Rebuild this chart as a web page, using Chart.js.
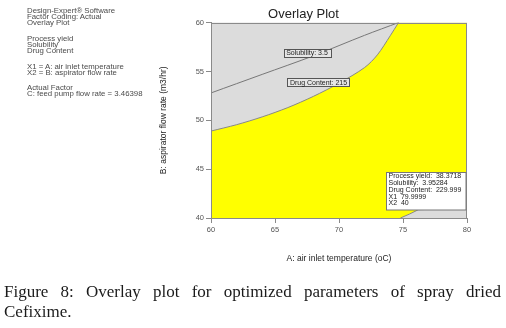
<!DOCTYPE html>
<html>
<head>
<meta charset="utf-8">
<script src="https://cdn.jsdelivr.net/npm/chart.js@4.4.1/dist/chart.umd.min.js"></script>
<style>
html, body { margin: 0; padding: 0; width: 506px; height: 328px; overflow: hidden; background: #fff; }
#page { position: absolute; left: 0; top: 0; width: 506px; height: 328px; overflow: hidden; background: #fff; will-change: transform; }
#wrap { position: absolute; left: 140px; top: 0; width: 398px; height: 272px; }
.info { position: absolute; left: 27px; font: 7.8px "Liberation Sans", Arial, sans-serif; color: #4a4a4a; white-space: nowrap; line-height: 8px; }
#caption { position: absolute; left: 4px; top: 282px; width: 497px; font: 17px "Liberation Serif", "Times New Roman", serif; line-height: 19.7px; text-align: justify; color: #1b1b1b; }
</style>
</head>
<body>
<div id="page">
<div class="info" style="top:7px">Design-Expert® Software</div>
<div class="info" style="top:13px">Factor Coding: Actual</div>
<div class="info" style="top:19px">Overlay Plot</div>
<div class="info" style="top:35px">Process yield</div>
<div class="info" style="top:41px">Solubility</div>
<div class="info" style="top:47px">Drug Content</div>
<div class="info" style="top:63px">X1 = A: air inlet temperature</div>
<div class="info" style="top:69px">X2 = B: aspirator flow rate</div>
<div class="info" style="top:84px">Actual Factor</div>
<div class="info" style="top:90px">C: feed pump flow rate = 3.46398</div>

<div id="wrap"><canvas id="overlayChart"></canvas></div>

<div id="caption">Figure 8: Overlay plot for optimized parameters of spray dried Cefixime.</div>
</div>

<script>
// contour: Solubility = 3.5
const solX = [60, 64, 68, 72, 74.65];
const solY = [52.8, 54.7, 56.6, 58.7, 60];

// contour: Drug Content = 215 (upper edge of the yellow window)
const drugX = [60, 62, 64, 66, 68, 70, 72, 73, 74, 74.65];
const drugY = [48.9, 49.55, 50.35, 51.3, 52.45, 53.8, 55.4, 56.7, 58.65, 60];

// top edge of the window, from the end of the contour to the right border
const topX = [74.5, 80];
const topY = [60, 60];

// small grey corner at the bottom right
const cornerX = [74.8, 75.5, 76.2, 80];
const cornerY = [40, 40.4, 40.85, 41.0];

const xMin = 60, xMax = 80, xStep = 5;
const yMin = 40, yMax = 60, yStep = 5;

const contourLabels = [
    { text: "Solubility: 3.5", x: 67.5, y: 56.9 },
    { text: "Drug Content: 215", x: 68.4, y: 53.9 },
];

const flagLines = [
    "Process yield:  38.3718",
    "Solubility:  3.95284",
    "Drug Content:  229.999",
    "X1  79.9999",
    "X2  40",
];
const flagPoint = { x: 73.7, y: 44.7 };

const toPoints = (xs, ys) => xs.map((x, i) => ({ x: x, y: ys[i] }));

const GREY = "#dcdcdc";
const YELLOW = "#ffff00";
const AXIS = "#8a8a8a";
const FONT = "'Liberation Sans', Arial, sans-serif";

const plotDecor = {
    id: "plotDecor",
    beforeDraw(chart) {
        const { ctx, chartArea: a } = chart;
        ctx.save();
        ctx.fillStyle = GREY;
        ctx.fillRect(a.left, a.top, a.right - a.left, a.bottom - a.top);
        ctx.restore();
    },
    afterDatasetsDraw(chart) {
        const { ctx, chartArea: a, scales } = chart;
        ctx.save();
        ctx.strokeStyle = AXIS;
        ctx.lineWidth = 1;
        ctx.strokeRect(Math.round(a.left) + 0.5, Math.round(a.top) + 0.5, Math.round(a.right - a.left) - 1, Math.round(a.bottom - a.top));

        // contour labels
        ctx.font = "7px " + FONT;
        ctx.textBaseline = "middle";
        ctx.textAlign = "center";
        contourLabels.forEach((l) => {
            const px = scales.x.getPixelForValue(l.x);
            const py = scales.y.getPixelForValue(l.y);
            const w = ctx.measureText(l.text).width + 5;
            ctx.fillStyle = "#e6e6e6";
            ctx.fillRect(Math.round(px - w / 2) + 0.5, Math.round(py - 4) + 0.5, Math.round(w), 8);
            ctx.strokeStyle = "#555";
            ctx.strokeRect(Math.round(px - w / 2) + 0.5, Math.round(py - 4) + 0.5, Math.round(w), 8);
            ctx.fillStyle = "#222";
            ctx.fillText(l.text, px, py + 0.5);
        });

        // flag box for the optimum point
        const bx = Math.round(scales.x.getPixelForValue(flagPoint.x)) + 0.5;
        const by = Math.round(scales.y.getPixelForValue(flagPoint.y)) + 0.5;
        const bw = Math.round(a.right) - 1 - bx;
        const bh = 37.5;
        ctx.fillStyle = "#fff";
        ctx.fillRect(bx, by, bw, bh);
        ctx.strokeStyle = "#777";
        ctx.strokeRect(bx, by, bw, bh);
        ctx.fillStyle = "#222";
        ctx.textAlign = "left";
        ctx.font = "7px " + FONT;
        flagLines.forEach((t, i) => {
            ctx.fillText(t, bx + 2, by + 4 + i * 6.7);
        });
        ctx.restore();
    },
};

const ctx = document.getElementById("overlayChart");

new Chart(ctx, {
    type: "scatter",
    data: {
        datasets: [
            {
                label: "Solubility 3.5",
                data: toPoints(solX, solY),
                showLine: true,
                borderColor: "#777",
                borderWidth: 1,
                pointRadius: 0,
                fill: false,
                tension: 0.3,
                order: 1,
            },
            {
                label: "corner",
                data: toPoints(cornerX, cornerY),
                showLine: true,
                borderColor: "#888",
                borderWidth: 1,
                backgroundColor: GREY,
                pointRadius: 0,
                fill: { value: yMin },
                order: 2,
            },
            {
                label: "Drug Content 215",
                data: toPoints(drugX, drugY),
                showLine: true,
                borderColor: "#888",
                borderWidth: 1,
                backgroundColor: YELLOW,
                pointRadius: 0,
                fill: { value: yMin },
                tension: 0.3,
                order: 3,
            },
            {
                label: "window top",
                data: toPoints(topX, topY),
                showLine: true,
                borderWidth: 0,
                borderColor: "rgba(0,0,0,0)",
                backgroundColor: YELLOW,
                pointRadius: 0,
                fill: { value: yMin },
                order: 4,
            },
        ],
    },
    options: {
        responsive: true,
        maintainAspectRatio: false,
        animation: false,
        layout: { padding: { left: 0, right: 71, top: 0, bottom: 0 } },
        plugins: {
            legend: { display: false },
            tooltip: { enabled: false },
            title: {
                display: true,
                text: "Overlay Plot",
                color: "#222",
                font: { family: FONT, size: 13, weight: "normal" },
                padding: { top: 7, bottom: 0 },
            },
        },
        scales: {
            x: {
                type: "linear",
                min: xMin,
                max: xMax,
                ticks: { stepSize: xStep, color: "#555", font: { family: FONT, size: 7.5 }, padding: 2 },
                grid: { drawOnChartArea: false, drawTicks: true, tickLength: 5, color: AXIS },
                border: { display: true, color: AXIS },
                title: {
                    display: true,
                    text: "A: air inlet temperature (oC)",
                    color: "#222",
                    font: { family: FONT, size: 8.5 },
                    padding: { top: 0, bottom: 8 },
                },
                afterFit(scale) { scale.height = 54; },
            },
            y: {
                type: "linear",
                min: yMin,
                max: yMax,
                ticks: { stepSize: yStep, color: "#555", font: { family: FONT, size: 7.5 }, padding: 2 },
                grid: { drawOnChartArea: false, drawTicks: true, tickLength: 5, color: AXIS },
                border: { display: true, color: AXIS },
                title: {
                    display: true,
                    text: "B: aspirator flow rate (m3/hr)",
                    color: "#222",
                    font: { family: FONT, size: 8.5 },
                    padding: { top: 19, bottom: 0 },
                },
                afterFit(scale) { scale.width = 71; },
            },
        },
    },
    plugins: [plotDecor],
});
</script>
</body>
</html>
